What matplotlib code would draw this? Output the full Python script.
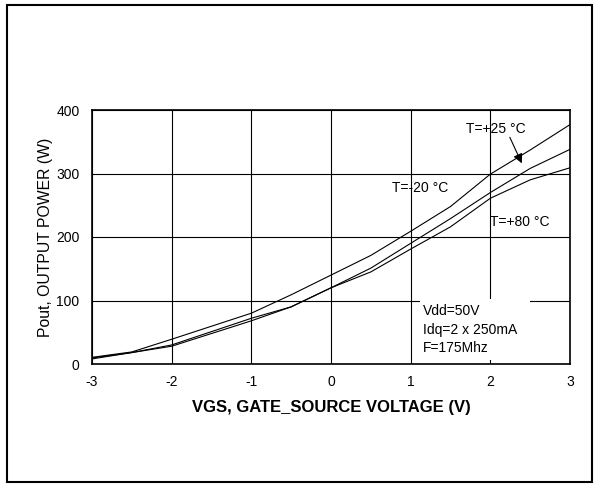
import numpy as np
import matplotlib.pyplot as plt
from matplotlib.patches import Rectangle

plt.rcParams['font.family'] = ['Liberation Sans', 'DejaVu Sans']
plt.rcParams['axes.unicode_minus'] = False

# gate-source voltage (V)
vgs = [-3, -2.5, -2, -1, -0.5, 0, 0.5, 1, 1.5, 2, 2.5, 3]
# output power (W) for each case temperature
pout_m20 = [10.5, 19, 39, 80, 109, 140, 171, 209, 248, 299, 337, 377]
pout_p25 = [9.5, 18, 30, 72, 90, 120, 151, 190, 229, 270, 308, 338]
pout_p80 = [8, 18, 28, 68, 90, 120, 145, 181, 216, 261, 290, 309]

xticks = [-3, -2, -1, 0, 1, 2, 3]
yticks = [0, 100, 200, 300, 400]

fig = plt.figure(figsize=(5.96, 4.87), dpi=100)
ax = fig.add_axes([92 / 596, 123 / 487, 478 / 596, 254 / 487])

for p in [pout_m20, pout_p25, pout_p80]:
    ax.plot(vgs, p, color='black', lw=0.8, zorder=3)

ax.set_xlim(-3, 3)
ax.set_ylim(0, 400)
ax.set_xticks(xticks)
ax.set_yticks(yticks)
ax.tick_params(length=0, labelsize=10)
ax.tick_params(axis='y', pad=9)
ax.tick_params(axis='x', pad=8)
ax.grid(True, color='black', lw=0.8)
for s in ax.spines.values():
    s.set_linewidth(1.2)

ax.set_xlabel('VGS, GATE_SOURCE VOLTAGE (V)', fontsize=12, fontweight='bold', labelpad=8)
ax.set_ylabel('Pout, OUTPUT POWER (W)', fontsize=11.3, labelpad=2)

ax.text(1.70, 370, 'T=+25 °C', fontsize=10, va='center', zorder=4)
ax.annotate('', xy=(2.41, 312), xytext=(2.23, 361),
            arrowprops=dict(arrowstyle='-|>', color='black', lw=0.8,
                            mutation_scale=14), zorder=4)
ax.text(0.76, 277, 'T=-20 °C', fontsize=10, va='center', zorder=4)
ax.text(1.99, 223, 'T=+80 °C', fontsize=10, va='center', zorder=4)

ax.add_patch(Rectangle((1.12, 6), 1.38, 97, facecolor='white', edgecolor='none', zorder=2.5))
ax.text(1.15, 84, 'Vdd=50V', fontsize=10, va='center', zorder=4)
ax.text(1.15, 54, 'Idq=2 x 250mA', fontsize=10, va='center', zorder=4)
ax.text(1.15, 25, 'F=175Mhz', fontsize=10, va='center', zorder=4)

fig.patches.append(Rectangle((7 / 596, 5 / 487), 585 / 596, 477 / 487,
                             transform=fig.transFigure, fill=False,
                             edgecolor='black', lw=1.5))

plt.savefig('out.png', dpi=100)
